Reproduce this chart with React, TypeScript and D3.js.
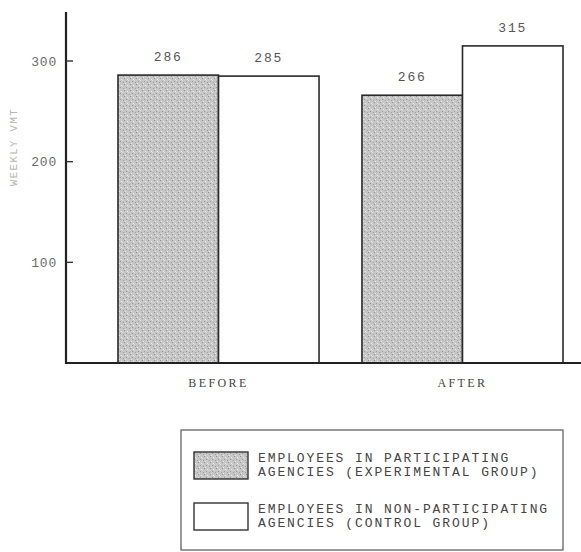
import React from "react";
import * as d3 from "d3";

const groups = ["BEFORE", "AFTER"];
const seriesKeys = ["experimental", "control"];
const experimentalValues = [286, 266];
const controlValues = [285, 315];
const yTicks = [100, 200, 300];
const legendLabels = [
  ["EMPLOYEES IN PARTICIPATING", "AGENCIES (EXPERIMENTAL GROUP)"],
  ["EMPLOYEES IN NON-PARTICIPATING", "AGENCIES (CONTROL GROUP)"],
];
const yTitle = "WEEKLY VMT";

const W = 581;
const H = 552;
const mono = "'Liberation Mono', 'DejaVu Sans Mono', monospace";
const serif = "'Liberation Serif', 'DejaVu Serif', serif";

export default function App() {
  const x0 = d3.scaleBand<string>().domain(groups).range([118, 563]).paddingInner(0.176).paddingOuter(0);
  const x1 = d3.scaleBand<string>().domain(seriesKeys).range([0, x0.bandwidth()]).padding(0);
  const y = d3.scaleLinear().domain([0, 300]).range([363, 61]);
  const axisX = 66;
  const axisTop = 12;

  const rows = groups.map((g, i) => ({
    group: g,
    values: [
      { key: "experimental", value: experimentalValues[i] },
      { key: "control", value: controlValues[i] },
    ],
  }));

  const fillFor = (k: string) => (k === "experimental" ? "url(#stipple)" : "#ffffff");

  return (
    <svg width={W} height={H} style={{ position: "absolute", left: 0, top: 0, background: "#fff" }}>
      <defs>
        <pattern id="stipple" width="6" height="6" patternUnits="userSpaceOnUse">
          <rect width="6" height="6" fill="#c6c6c6" />
          <rect x="0" y="0" width="1" height="1" fill="#939393" />
          <rect x="3" y="1" width="1" height="1" fill="#eeeeee" />
          <rect x="2" y="3" width="1" height="1" fill="#999999" />
          <rect x="5" y="4" width="1" height="1" fill="#a0a0a0" />
          <rect x="1" y="5" width="1" height="1" fill="#e8e8e8" />
          <rect x="4" y="2" width="1" height="1" fill="#dddddd" />
        </pattern>
      </defs>

      {/* bars */}
      {rows.map((r) => (
        <g key={r.group} transform={`translate(${x0(r.group)},0)`}>
          {r.values.map((v) => (
            <g key={v.key}>
              <rect
                x={x1(v.key)}
                y={y(v.value)}
                width={x1.bandwidth()}
                height={y(0) - y(v.value)}
                fill={fillFor(v.key)}
                stroke="#2a2a2a"
                strokeWidth={1.6}
              />
              <text
                x={(x1(v.key) as number) + x1.bandwidth() / 2}
                y={y(v.value) - 14}
                textAnchor="middle"
                fontFamily={mono}
                fontSize={13}
                letterSpacing={1.8}
                fill="#555"
              >
                {v.value}
              </text>
            </g>
          ))}
          <text
            x={x0.bandwidth() / 2}
            y={387}
            textAnchor="middle"
            fontFamily={serif}
            fontSize={12}
            letterSpacing={2.4}
            fill="#444"
          >
            {r.group}
          </text>
        </g>
      ))}

      {/* y axis */}
      <line x1={axisX} x2={axisX} y1={axisTop} y2={y(0) + 1} stroke="#222" strokeWidth={2.2} />
      {yTicks.map((t) => (
        <g key={t}>
          <line x1={axisX} x2={axisX + 7} y1={y(t)} y2={y(t)} stroke="#333" strokeWidth={1.4} />
          <text
            x={axisX - 9}
            y={y(t)}
            dy="0.35em"
            textAnchor="end"
            fontFamily={mono}
            fontSize={13}
            letterSpacing={0.8}
            fill="#6a6a6a"
          >
            {t}
          </text>
        </g>
      ))}
      <text
        transform={`translate(17,147) rotate(-90)`}
        textAnchor="middle"
        fontFamily={mono}
        fontSize={10.5}
        letterSpacing={1.5}
        fill="#b5b5b5"
      >
        {yTitle}
      </text>

      {/* baseline */}
      <line x1={axisX - 1} x2={W} y1={y(0)} y2={y(0)} stroke="#222" strokeWidth={2.2} />

      {/* legend */}
      <rect x={181} y={430} width={382} height={120} fill="none" stroke="#555" strokeWidth={1.2} />
      {seriesKeys.map((k, i) => {
        const top = i === 0 ? 452 : 503;
        return (
          <g key={k}>
            <rect x={194} y={top} width={54} height={27} fill={fillFor(k)} stroke="#333" strokeWidth={1.4} />
            {legendLabels[i].map((line, j) => (
              <text
                key={j}
                x={258}
                y={top + 10 + j * 14}
                fontFamily={mono}
                fontSize={13}
                letterSpacing={1.9}
                fill="#444"
              >
                {line}
              </text>
            ))}
          </g>
        );
      })}
    </svg>
  );
}
